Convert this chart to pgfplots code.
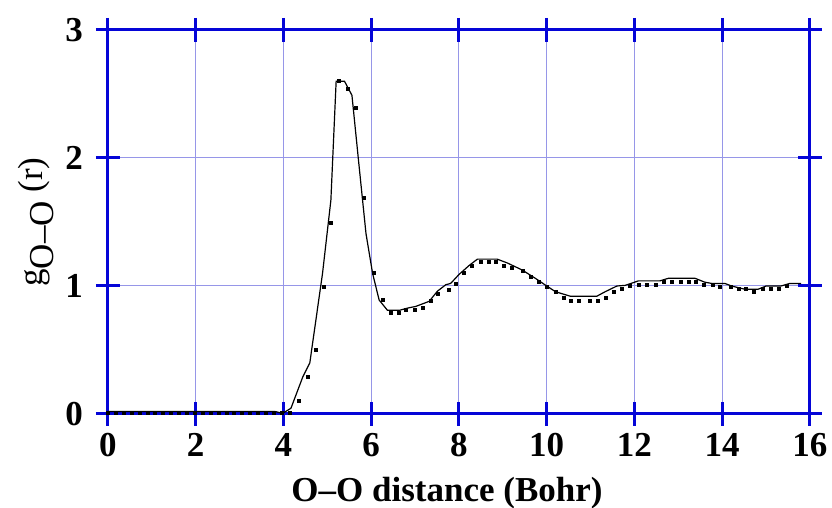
\documentclass[border=0pt]{standalone}
\usepackage{pgfplots}
\pgfplotsset{compat=1.18}
\usepackage{fontspec}
\setmainfont{Liberation Serif}
\definecolor{axcol}{RGB}{5,5,215}
\definecolor{gridcol}{RGB}{150,150,232}
\begin{document}
\begin{tikzpicture}
\path[use as bounding box] (-54pt,-47pt) rectangle (362pt,207pt);
\begin{axis}[
    at={(0,0)}, anchor=south west,
    width=351pt, height=192pt, scale only axis,
    xmin=0, xmax=16, ymin=0, ymax=3,
    xtick={0,2,...,16}, ytick={0,1,2,3},
    grid=major,
    major grid style={gridcol, line width=0.5pt},
    axis line style={axcol, line width=1.5pt},
    major tick style={axcol, line width=1.5pt},
    tick align=center, major tick length=12pt,
    minor tick num=0,
    /pgf/number format/assume math mode=true,
    ticklabel style={font=\fontsize{17.5}{20}\selectfont\bfseries},
    yticklabel style={xshift=-3pt},
    xlabel={O–O distance (Bohr)},
    xlabel style={font=\fontsize{17.5}{20}\selectfont\bfseries, yshift=-3.5pt, xshift=-6pt},
    ylabel={g\raisebox{-0.7ex}{O–O} (r)},
    ylabel style={font=\fontsize{17.5}{20}\selectfont, yshift=-1pt},
]
% solid curve
\addplot[black, line width=0.6pt] coordinates {
(0,0.02) (3.8,0.02) (3.98,0.005) (4.17,0.045) (4.44,0.29) (4.6,0.40)
(4.89,1.10) (5.08,1.67) (5.2,2.60) (5.39,2.60) (5.56,2.49) (5.71,1.98)
(5.88,1.41) (6.03,1.10) (6.18,0.89) (6.37,0.81) (6.64,0.81) (6.86,0.83)
(7.01,0.84) (7.32,0.88) (7.51,0.96) (7.70,1.01) (7.81,1.02) (8.0,1.09)
(8.23,1.16) (8.42,1.21) (8.87,1.21) (9.10,1.18) (9.44,1.125) (9.74,1.06)
(10.0,1.0) (10.2,0.955) (10.54,0.92) (11.14,0.92) (11.33,0.955) (11.6,1.0)
(11.79,1.005) (12.09,1.04) (12.58,1.04) (12.77,1.06) (13.38,1.06) (13.6,1.03)
(13.76,1.02) (14.06,1.02) (14.21,1.0) (14.51,0.975) (14.82,0.975) (15.0,1.0)
(15.34,1.0) (15.54,1.02) (15.8,1.02)
};
% dotted series
\addplot[only marks, mark=square*, mark size=0.75pt, black] coordinates {
(0,0.01) (0.18,0.01) (0.36,0.01) (0.54,0.01) (0.72,0.01) (0.90,0.01)
(1.08,0.01) (1.26,0.01) (1.44,0.01) (1.62,0.01) (1.80,0.01) (1.98,0.01)
(2.16,0.01) (2.34,0.01) (2.52,0.01) (2.70,0.01) (2.88,0.01) (3.06,0.01)
(3.24,0.01) (3.42,0.01) (3.60,0.01) (3.78,0.01) (3.96,0.01) (4.14,0.01)
(4.36,0.10) (4.55,0.29) (4.73,0.50) (4.91,0.99) (5.09,1.49) (5.27,2.60)
(5.46,2.54) (5.64,2.39) (5.83,1.69) (6.07,1.10) (6.26,0.89) (6.44,0.79)
(6.62,0.79) (6.80,0.81) (6.99,0.81) (7.17,0.83) (7.35,0.88) (7.53,0.94)
(7.76,0.97) (7.94,1.02) (8.12,1.10) (8.30,1.16) (8.49,1.185) (8.68,1.185)
(8.85,1.185) (9.03,1.16) (9.21,1.14) (9.45,1.12) (9.64,1.07) (9.83,1.03)
(10.0,0.995) (10.2,0.95) (10.38,0.91) (10.56,0.885) (10.74,0.885) (10.98,0.885)
(11.16,0.885) (11.35,0.91) (11.54,0.95) (11.71,0.975) (11.90,1.0) (12.09,1.01)
(12.28,1.01) (12.48,1.01) (12.68,1.03) (12.86,1.03) (13.05,1.03) (13.23,1.03)
(13.39,1.03) (13.59,1.01) (13.78,1.01) (13.95,0.995) (14.2,0.995) (14.38,0.975)
(14.55,0.975) (14.73,0.95) (14.93,0.975) (15.1,0.975) (15.29,0.975) (15.47,1.0)
};
\end{axis}
\end{tikzpicture}
\end{document}
